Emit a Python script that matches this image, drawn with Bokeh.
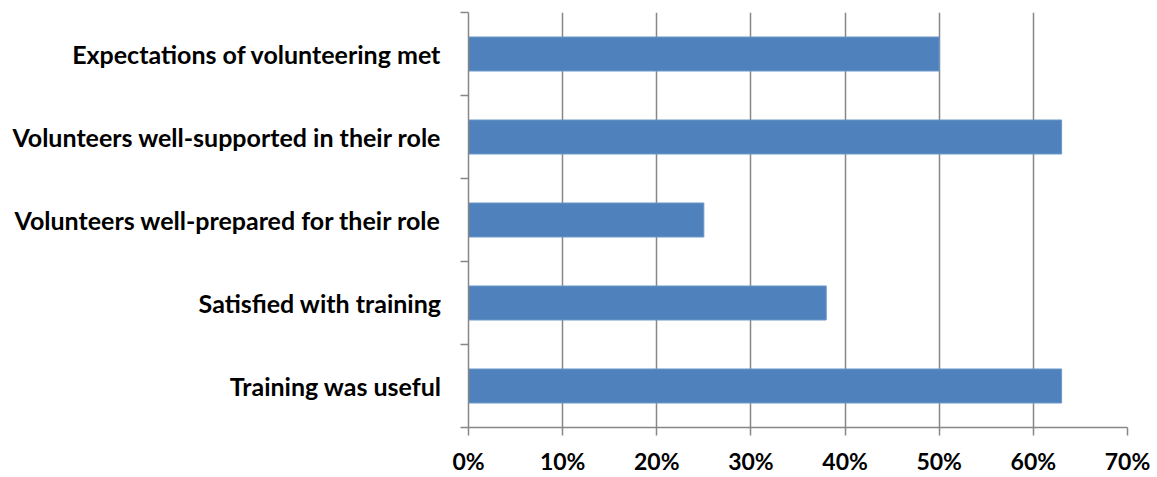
from bokeh.plotting import figure
from bokeh.models import FixedTicker, NumeralTickFormatter, ColumnDataSource
from bokeh.embed import file_html
from bokeh.resources import INLINE

categories = [
    "Training was useful",
    "Satisfied with training",
    "Volunteers well-prepared for their role",
    "Volunteers well-supported in their role",
    "Expectations of volunteering met",
]
values = [0.63, 0.38, 0.25, 0.63, 0.50]
x_ticks = [0.0, 0.1, 0.2, 0.3, 0.4, 0.5, 0.6, 0.7]

centers = [i + 0.5 for i in range(len(categories))]
boundaries = [float(i) for i in range(len(categories) + 1)]

src = ColumnDataSource(dict(y=centers, v=values, cat=categories))

p = figure(width=1157, height=477, output_backend="svg", toolbar_location=None,
           x_range=(0, 0.7), y_range=(0, len(categories)),
           min_border_left=468, min_border_right=30, min_border_top=12, min_border_bottom=40)
p.outline_line_color = None
p.background_fill_color = "white"

p.hbar(y="y", right="v", left=0, height=0.41, source=src,
       fill_color="#4F81BD", line_color="#6E98C9", line_width=1)

GRAY = "#878787"
FONT = "Lato"

# x axis
p.xaxis.ticker = FixedTicker(ticks=x_ticks)
p.xaxis.formatter = NumeralTickFormatter(format="0%")
p.xaxis.axis_line_color = GRAY
p.xaxis.axis_line_width = 1.5
p.xaxis.major_tick_line_color = GRAY
p.xaxis.major_tick_line_width = 1.5
p.xaxis.major_tick_out = 8
p.xaxis.major_tick_in = 0
p.xaxis.minor_tick_line_color = None
p.xaxis.major_label_text_font = FONT
p.xaxis.major_label_text_font_style = "bold"
p.xaxis.major_label_text_font_size = "23px"
p.xaxis.major_label_text_color = "black"
p.xaxis.major_label_standoff = 11

# y axis
label_map = {c: n for c, n in zip(centers, categories)}
p.yaxis.ticker = FixedTicker(ticks=centers, minor_ticks=boundaries)
p.yaxis.major_label_overrides = label_map
p.yaxis.axis_line_color = GRAY
p.yaxis.axis_line_width = 1.5
p.yaxis.major_tick_line_color = None
p.yaxis.major_tick_out = 0
p.yaxis.major_tick_in = 0
p.yaxis.minor_tick_line_color = GRAY
p.yaxis.minor_tick_line_width = 1.5
p.yaxis.minor_tick_out = 8
p.yaxis.minor_tick_in = 0
p.yaxis.major_label_text_font = FONT
p.yaxis.major_label_text_font_style = "bold"
p.yaxis.major_label_text_font_size = "25px"
p.yaxis.major_label_text_color = "black"
p.yaxis.major_label_standoff = 19

# grid
p.xgrid.ticker = FixedTicker(ticks=x_ticks)
p.xgrid.grid_line_color = GRAY
p.xgrid.grid_line_width = 1.5
p.ygrid.grid_line_color = None

open("out.html", "w").write(file_html(p, INLINE))
